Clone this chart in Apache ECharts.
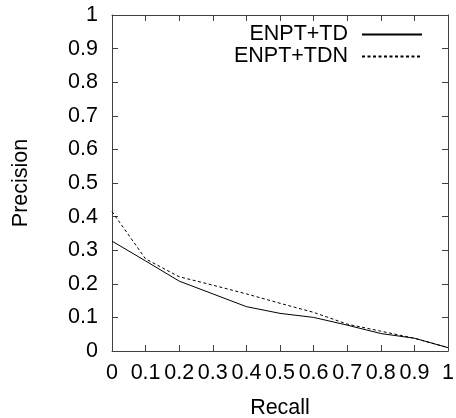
<!DOCTYPE html>
<html>
<head>
<meta charset="utf-8">
<script src="https://cdn.jsdelivr.net/npm/echarts@6/dist/echarts.min.js"></script>
<style>
  html, body { margin: 0; padding: 0; background: #fff; }
  #chart { width: 456px; height: 418px; }
</style>
</head>
<body>
<div id="chart"></div>
<script>
var recall = [0, 0.1, 0.2, 0.3, 0.4, 0.5, 0.6, 0.7, 0.8, 0.9, 1];
var enptTD = [0.327, 0.268, 0.208, 0.17, 0.132, 0.112, 0.1, 0.077, 0.052, 0.038, 0.01];
var enptTDN = [0.415, 0.274, 0.221, 0.196, 0.17, 0.142, 0.115, 0.08, 0.059, 0.038, 0.01];

var chartDom = document.getElementById('chart');
var myChart = echarts.init(chartDom);
var font = 'Liberation Sans, Arial, sans-serif';
var axisColor = '#404040';

function pairs(xs, ys) {
  return xs.map(function (x, i) { return [x, ys[i]]; });
}

function tickLabel(v) {
  if (v === 0 || v === 1) return String(v);
  return v.toFixed(1);
}

var mainAxis = {
  type: 'value',
  min: 0,
  max: 1,
  interval: 0.1,
  splitLine: { show: false },
  axisLine: { show: true, onZero: false, lineStyle: { color: axisColor, width: 1 } },
  axisTick: { show: true, inside: true, length: 6, lineStyle: { color: axisColor } }
};

var option = {
  animation: false,
  backgroundColor: '#fff',
  grid: { left: 112, right: 8, top: 15, bottom: 67, outerBoundsMode: 'none' },
  legend: {
    orient: 'vertical',
    right: 28,
    top: 18.5,
    align: 'right',
    itemWidth: 60,
    itemHeight: 10,
    itemGap: 0,
    selectedMode: false,
    itemStyle: { opacity: 0 },
    textStyle: {
      fontFamily: font,
      fontSize: 21.5,
      color: '#000',
      lineHeight: 21,
      padding: [0, 9, 0, 0]
    },
    data: ['ENPT+TD', 'ENPT+TDN']
  },
  xAxis: [
    Object.assign({}, mainAxis, {
      position: 'bottom',
      name: 'Recall',
      nameLocation: 'middle',
      nameGap: 46,
      nameTextStyle: { fontFamily: font, fontSize: 21.5, color: '#000' },
      axisLabel: { margin: 11, fontFamily: font, fontSize: 21.5, color: '#000', formatter: tickLabel }
    }),
    Object.assign({}, mainAxis, {
      position: 'top',
      axisLabel: { show: false }
    })
  ],
  yAxis: [
    Object.assign({}, mainAxis, {
      position: 'left',
      name: 'Precision',
      nameLocation: 'middle',
      nameGap: 80,
      nameTextStyle: { fontFamily: font, fontSize: 21.5, color: '#000' },
      axisLabel: { margin: 14, fontFamily: font, fontSize: 21.5, color: '#000', formatter: tickLabel }
    }),
    Object.assign({}, mainAxis, {
      position: 'right',
      axisLabel: { show: false }
    })
  ],
  series: [
    {
      name: 'ENPT+TD',
      type: 'line',
      xAxisIndex: 0,
      yAxisIndex: 0,
      symbol: 'none',
      data: pairs(recall, enptTD),
      lineStyle: { color: '#000', width: 1, type: 'solid' },
      itemStyle: { color: '#000' }
    },
    {
      name: 'ENPT+TDN',
      type: 'line',
      xAxisIndex: 0,
      yAxisIndex: 0,
      symbol: 'none',
      data: pairs(recall, enptTDN),
      lineStyle: { color: '#000', width: 1, type: [3, 2.5] },
      itemStyle: { color: '#000' }
    }
  ]
};

myChart.setOption(option);
</script>
</body>
</html>
